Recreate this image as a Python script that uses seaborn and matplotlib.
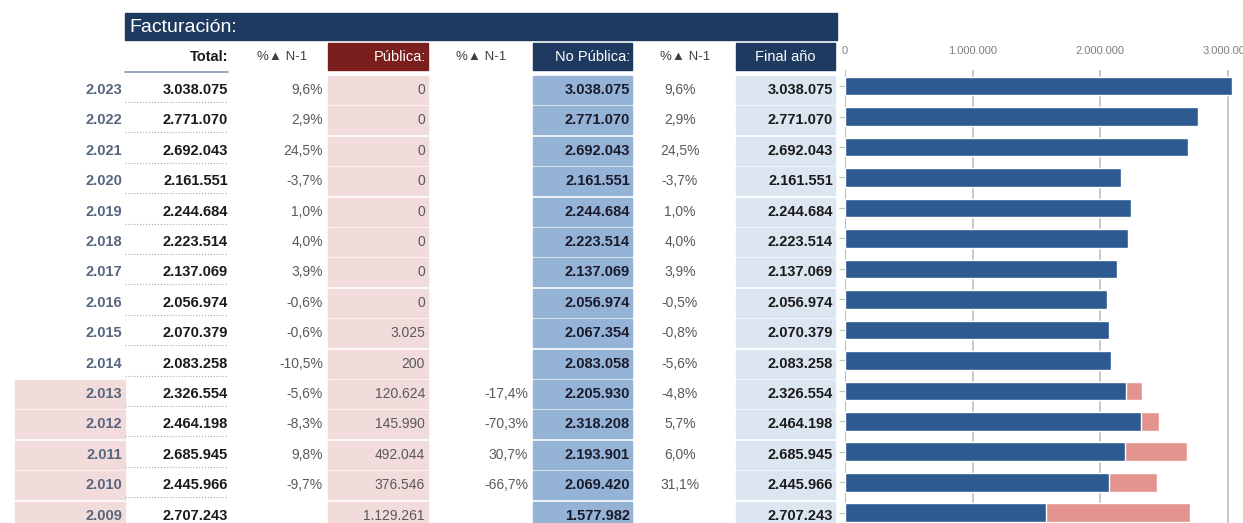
import matplotlib
matplotlib.use("Agg")
import matplotlib.pyplot as plt
import seaborn as sns
from matplotlib.patches import Rectangle
from matplotlib.ticker import FuncFormatter

# Datos de facturación
anios = [2023, 2022, 2021, 2020, 2019, 2018, 2017, 2016, 2015, 2014, 2013, 2012, 2011, 2010, 2009]
total = [3038075, 2771070, 2692043, 2161551, 2244684, 2223514, 2137069, 2056974,
         2070379, 2083258, 2326554, 2464198, 2685945, 2445966, 2707243]
pct_total = ["9,6%", "2,9%", "24,5%", "-3,7%", "1,0%", "4,0%", "3,9%", "-0,6%",
             "-0,6%", "-10,5%", "-5,6%", "-8,3%", "9,8%", "-9,7%", ""]
publica = [0, 0, 0, 0, 0, 0, 0, 0, 3025, 200, 120624, 145990, 492044, 376546, 1129261]
pct_publica = ["", "", "", "", "", "", "", "", "", "", "-17,4%", "-70,3%", "30,7%", "-66,7%", ""]
no_publica = [3038075, 2771070, 2692043, 2161551, 2244684, 2223514, 2137069, 2056974,
              2067354, 2083058, 2205930, 2318208, 2193901, 2069420, 1577982]
pct_no_publica = ["9,6%", "2,9%", "24,5%", "-3,7%", "1,0%", "4,0%", "3,9%", "-0,5%",
                  "-0,8%", "-5,6%", "-4,8%", "5,7%", "6,0%", "31,1%", ""]
final_anio = total

ticks_x = [0, 1000000, 2000000, 3000000]


def fmt(v):
    return f"{v:,}".replace(",", ".")


AZUL = "#1F3A60"
ROJO = "#7B1E1E"
ROSA = "#F2DCDB"
AZUL_MED = "#95B3D7"
AZUL_CLARO = "#DCE6F1"
BARRA_AZUL = "#2E5A92"
BARRA_ROSA = "#E3948E"

sns.set_style("white")
plt.rcParams["font.family"] = ["Liberation Sans", "DejaVu Sans"]

fig = plt.figure(figsize=(12.43, 5.23), dpi=100)

# tabla (coordenadas en pixeles)
ax = fig.add_axes([0, 0, 1, 1])
ax.set_xlim(0, 1243)
ax.set_ylim(523, 0)
ax.axis("off")

# cabecera
ax.add_patch(Rectangle((125, 13), 712, 27, color=AZUL))
ax.text(129, 27, "Facturación:", color="white", fontsize=14, va="center", ha="left")

ax.add_patch(Rectangle((328, 43), 100, 27, color=ROJO))
ax.add_patch(Rectangle((533, 43), 99, 27, color=AZUL))
ax.add_patch(Rectangle((736, 43), 99, 27, color=AZUL))

yh = 57
ax.text(228, yh, "Total:", fontsize=10.5, fontweight="bold", ha="right", va="center", color="#1a1a1a")
ax.text(282, yh, "%▲ N-1", fontsize=9.5, ha="center", va="center", color="#404040")
ax.text(426, yh, "Pública:", fontsize=10.5, ha="right", va="center", color="white")
ax.text(481, yh, "%▲ N-1", fontsize=9.5, ha="center", va="center", color="#404040")
ax.text(630, yh, "No Pública:", fontsize=10.5, ha="right", va="center", color="white")
ax.text(685, yh, "%▲ N-1", fontsize=9.5, ha="center", va="center", color="#404040")
ax.text(785, yh, "Final año", fontsize=10.5, ha="center", va="center", color="white")
ax.plot([125, 228], [72, 72], color="#8496B0", lw=1.2)

for i, a in enumerate(anios):
    yc = 90 + 30.4 * i
    top = yc - 14
    if a <= 2013:
        ax.add_patch(Rectangle((15, top), 110, 28, color=ROSA))
    ax.add_patch(Rectangle((328, top), 100, 28, color=ROSA))
    ax.add_patch(Rectangle((533, top), 99, 28, color=AZUL_MED))
    ax.add_patch(Rectangle((736, top), 99, 28, color=AZUL_CLARO))

    ax.text(122, yc, fmt(a), fontsize=10.5, fontweight="bold", ha="right", va="center", color="#56657E")
    ax.text(228, yc, fmt(total[i]), fontsize=10.5, fontweight="bold", ha="right", va="center", color="#1a1a1a")
    ax.plot([125, 228], [yc + 12, yc + 12], color="#A6A6B8", lw=0.8, ls=":")
    ax.text(323, yc, pct_total[i], fontsize=10, ha="right", va="center", color="#595959")
    ax.text(425, yc, fmt(publica[i]), fontsize=10, ha="right", va="center", color="#595959")
    ax.text(528, yc, pct_publica[i], fontsize=10, ha="right", va="center", color="#595959")
    ax.text(630, yc, fmt(no_publica[i]), fontsize=10.5, fontweight="bold", ha="right", va="center", color="#1a1a2a")
    ax.text(680, yc, pct_no_publica[i], fontsize=10, ha="center", va="center", color="#595959")
    ax.text(833, yc, fmt(final_anio[i]), fontsize=10.5, fontweight="bold", ha="right", va="center", color="#1a1a1a")

# grafico de barras
etiquetas = [fmt(a) for a in anios]
axb = fig.add_axes([845 / 1243, 0, 398 / 1243, (523 - 70) / 523])
axb.patch.set_alpha(0)
sns.barplot(x=final_anio, y=etiquetas, orient="h", color=BARRA_ROSA, width=0.62,
            saturation=1, ax=axb, zorder=3)
sns.barplot(x=no_publica, y=etiquetas, orient="h", color=BARRA_AZUL, width=0.62,
            saturation=1, ax=axb, zorder=4)
axb.set_xlim(0, 398 / 127.5 * 1e6)
axb.set_ylim(14.33, -0.525)
axb.set_xticks(ticks_x)
axb.xaxis.set_major_formatter(FuncFormatter(lambda v, p: fmt(int(v))))
axb.xaxis.tick_top()
axb.tick_params(axis="x", labelsize=8, colors="#7F7F7F", length=0, pad=10)
axb.tick_params(axis="y", labelleft=False, left=True, length=4, color="#BFBFBF", width=0.8)
axb.grid(axis="x", color="#BFBFBF", lw=1.2, zorder=0)
axb.set_axisbelow(True)
for s in ["top", "right", "bottom"]:
    axb.spines[s].set_visible(False)
axb.spines["left"].set_color("#BFBFBF")
axb.set_xlabel("")
axb.set_ylabel("")

plt.savefig("out.png", dpi=100)
